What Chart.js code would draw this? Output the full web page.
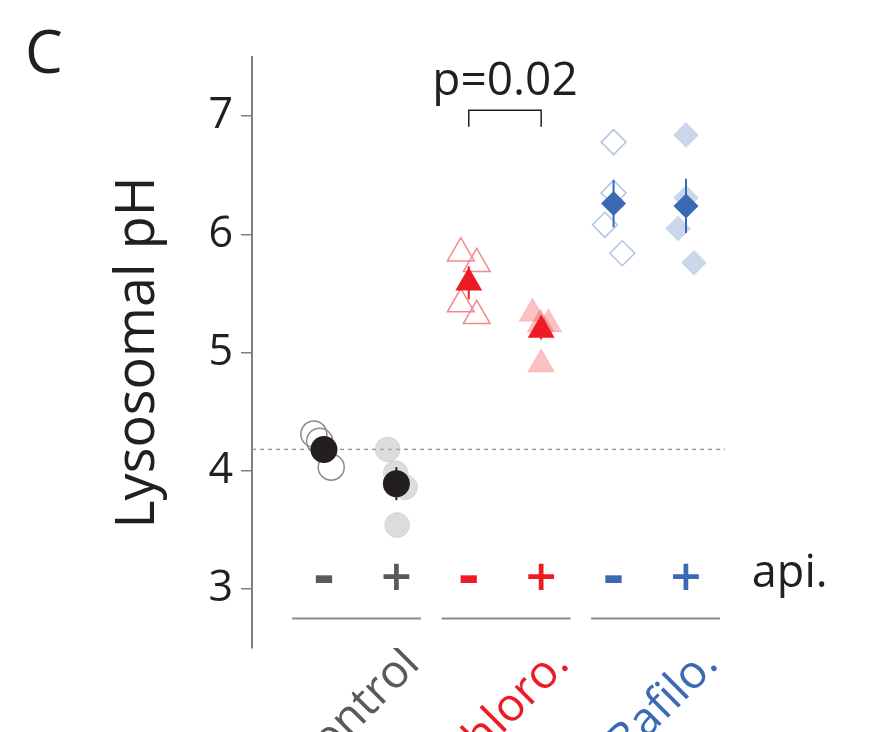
<!DOCTYPE html>
<html>
<head>
<meta charset="utf-8">
<script src="https://cdn.jsdelivr.net/npm/chart.js@4.4.1/dist/chart.umd.min.js"></script>
<style>
  html, body { margin: 0; padding: 0; background: #fff; }
  #wrap { width: 896px; height: 732px; position: relative; }
</style>
</head>
<body>
<div id="wrap"><canvas id="phChart"></canvas></div>
<script>
// treatments on the x axis, each measured without (-) and with (+) api.
const treatments = ['Control', 'Chloro.', 'Bafilo.'];
const apiSigns = ['-', '+', '-', '+', '-', '+'];
const yTicks = [3, 4, 5, 6, 7];

// single replicates: pH and horizontal jitter inside the slot
const phCtrlMinus = [4.31, 4.25, 4.03];
const jitCtrlMinus = [-0.14, -0.06, 0.10];
const phCtrlPlus = [4.18, 3.98, 3.86, 3.54];
const jitCtrlPlus = [-0.12, -0.01, 0.12, 0.01];
const phChlMinus = [5.84, 5.75, 5.41, 5.31];
const jitChlMinus = [-0.11, 0.11, -0.11, 0.11];
const phChlPlus = [5.33, 5.24, 5.24, 4.90];
const jitChlPlus = [-0.12, -0.01, 0.10, 0.0];
const phBafMinus = [6.78, 6.35, 6.08, 5.84];
const jitBafMinus = [0.0, 0.0, -0.12, 0.12];
const phBafPlus = [6.84, 6.31, 6.05, 5.76];
const jitBafPlus = [0.0, 0.0, -0.11, 0.11];

// group means and SEM, one per slot
const phMean = [4.18, 3.89, 5.59, 5.19, 6.26, 6.24];
const phSem = [0.07, 0.14, 0.14, 0.08, 0.20, 0.23];
const pText = 'p=0.02';

const ink = '#231f20';
const treatColors = ['#5a5a5a', '#ed1c24', '#3a6ab4'];
const X_MIN = -0.994, X_MAX = 5.539;

const font = '"Open Sans", "Noto Sans", sans-serif';
Chart.defaults.font.family = font;

const toPoints = (ph, jit, slot) => ph.map((v, i) => ({ x: slot + jit[i], y: v }));

const replicateSets = [
    { data: toPoints(phCtrlMinus, jitCtrlMinus, 0), pointStyle: 'circle', pointRadius: 13, backgroundColor: 'rgba(0,0,0,0)', borderColor: '#8c8c8c', borderWidth: 1.5 },
    { data: toPoints(phCtrlPlus, jitCtrlPlus, 1), pointStyle: 'circle', pointRadius: 12.5, backgroundColor: 'rgba(185,185,185,0.5)', borderColor: 'rgba(185,185,185,0.3)', borderWidth: 1 },
    { data: toPoints(phChlMinus, jitChlMinus, 2), pointStyle: 'triangle', pointRadius: 15.5, backgroundColor: 'rgba(0,0,0,0)', borderColor: '#f2898d', borderWidth: 1.5 },
    { data: toPoints(phChlPlus, jitChlPlus, 3), pointStyle: 'triangle', pointRadius: 15.5, backgroundColor: 'rgba(237,28,36,0.28)', borderColor: 'rgba(237,28,36,0.1)', borderWidth: 1 },
    { data: toPoints(phBafMinus, jitBafMinus, 4), pointStyle: 'rectRot', pointRadius: 12.5, backgroundColor: 'rgba(0,0,0,0)', borderColor: '#b1c4e3', borderWidth: 1.5 },
    { data: toPoints(phBafPlus, jitBafPlus, 5), pointStyle: 'rectRot', pointRadius: 12.5, backgroundColor: 'rgba(58,106,180,0.27)', borderColor: 'rgba(58,106,180,0.1)', borderWidth: 1 }
].map(d => ({ ...d, type: 'scatter', order: 2, pointHoverRadius: d.pointRadius }));

const meanStyles = ['circle', 'circle', 'triangle', 'triangle', 'rectRot', 'rectRot'];
const meanRadius = [13.5, 13.5, 15.5, 15.5, 12.5, 12.5];
const meanColors = [ink, ink, treatColors[1], treatColors[1], treatColors[2], treatColors[2]];

const meanSets = phMean.map((m, i) => ({
    type: 'scatter',
    order: 0,
    data: [{ x: i, y: m }],
    pointStyle: meanStyles[i],
    pointRadius: meanRadius[i],
    backgroundColor: meanColors[i],
    borderColor: meanColors[i],
    borderWidth: 0
}));

const errorSets = phMean.map((m, i) => ({
    type: 'line',
    order: 1,
    data: [{ x: i, y: m - phSem[i] }, { x: i, y: m + phSem[i] }],
    borderColor: meanColors[i],
    borderWidth: 2,
    pointRadius: 0
}));

const underlineSets = treatments.map((t, i) => {
    const c = 0.45 + 2.065 * i;
    return {
        type: 'line',
        order: 3,
        data: [{ x: c - 0.89, y: 2.75 }, { x: c + 0.89, y: 2.75 }],
        borderColor: '#8a8a8a',
        borderWidth: 2,
        pointRadius: 0
    };
});

const extraSets = [
    {
        // reference level of the control
        type: 'line',
        order: 5,
        data: [{ x: X_MIN, y: phMean[0] }, { x: X_MAX, y: phMean[0] }],
        borderColor: '#9a9a9a',
        borderWidth: 1.5,
        borderDash: [4, 4],
        pointRadius: 0
    },
    {
        // significance bracket between chloro - and +
        type: 'line',
        order: 3,
        data: [{ x: 2, y: 6.91 }, { x: 2, y: 7.05 }, { x: 3, y: 7.05 }, { x: 3, y: 6.91 }],
        borderColor: ink,
        borderWidth: 1.5,
        pointRadius: 0
    }
];

const annotate = {
    id: 'annotate',
    afterDraw(chart) {
        const { ctx, scales: { x, y } } = chart;
        ctx.save();
        ctx.textBaseline = 'alphabetic';
        ctx.textAlign = 'center';
        apiSigns.forEach((s, i) => {
            ctx.fillStyle = treatColors[Math.floor(i / 2)];
            ctx.font = s === '-' ? `700 62px ${font}` : `600 54px ${font}`;
            ctx.fillText(s, x.getPixelForValue(i), y.getPixelForValue(2.94));
        });
        ctx.fillStyle = ink;
        ctx.font = `46px ${font}`;
        ctx.fillText(pText, x.getPixelForValue(2.5), y.getPixelForValue(7.18));
        ctx.textAlign = 'left';
        ctx.font = `45px ${font}`;
        ctx.fillText('api.', x.getPixelForValue(5.91), y.getPixelForValue(3.02));
        ctx.font = `60px ${font}`;
        ctx.fillText('C', 25, 73);
        ctx.restore();
    }
};

new Chart(document.getElementById('phChart'), {
    type: 'scatter',
    data: { datasets: [...extraSets, ...underlineSets, ...replicateSets, ...errorSets, ...meanSets] },
    options: {
        responsive: true,
        maintainAspectRatio: false,
        animation: false,
        layout: { padding: { left: 0, top: 57, right: 171, bottom: 0 } },
        plugins: { legend: { display: false }, tooltip: { enabled: false } },
        scales: {
            x: {
                type: 'linear',
                min: X_MIN,
                max: X_MAX,
                afterBuildTicks: (s) => { s.ticks = treatments.map((t, i) => ({ value: 1.22 + 2.06 * i })); },
                afterFit: (s) => { s.height = 84; s.paddingLeft = 0; s.paddingRight = 0; },
                grid: { display: false, drawTicks: false },
                border: { display: false },
                ticks: {
                    autoSkip: false,
                    minRotation: 45,
                    maxRotation: 45,
                    padding: -11,
                    font: { size: 46 },
                    color: (c) => treatColors[c.index],
                    callback: (v, i) => treatments[i]
                }
            },
            y: {
                type: 'linear',
                min: 2.5,
                max: 7.5,
                afterBuildTicks: (s) => { s.ticks = yTicks.map(v => ({ value: v })); },
                afterFit: (s) => { s.width = 252; s.paddingTop = 0; s.paddingBottom = 0; },
                border: { color: '#808080', width: 2 },
                grid: { drawOnChartArea: false, tickLength: 11, color: '#808080', lineWidth: 1.5 },
                ticks: { padding: 8, font: { size: 43 }, color: ink },
                title: { display: true, text: 'Lysosomal pH', font: { size: 54 }, color: ink, padding: { top: 106 } }
            }
        }
    },
    plugins: [annotate]
});
</script>
</body>
</html>
